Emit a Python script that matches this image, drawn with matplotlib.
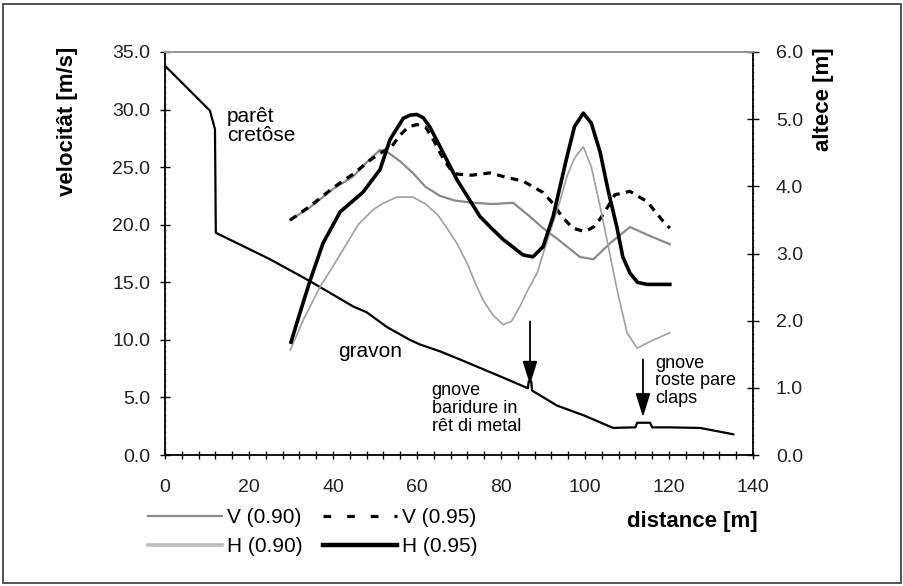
import matplotlib
matplotlib.use("Agg")
import matplotlib.pyplot as plt
from matplotlib.ticker import MultipleLocator, FormatStrFormatter
from matplotlib.lines import Line2D
from matplotlib.patches import Rectangle

plt.rcParams['font.family'] = ['Liberation Sans', 'DejaVu Sans']

# profîl dal teren (in unitâts de scjale a çampe)
ground_x = [0, 10.7, 11.9, 12.1, 25, 34.5, 44.8, 48, 52.9, 58.3, 60.7, 65.5, 70.2, 80,
            86.4, 86.6, 87.2, 87.4, 93.3, 100, 106.7, 111.4, 112.0, 112.4, 115.5, 116.0,
            120, 127.4, 135.3]
ground_y = [33.8, 29.9, 28.3, 19.3, 17.0, 15.1, 12.9, 12.4, 11.1, 10.0, 9.6, 9.0, 8.3, 6.8,
            5.8, 6.4, 6.4, 5.6, 4.3, 3.4, 2.35, 2.4, 2.4, 2.8, 2.8, 2.4,
            2.4, 2.35, 1.8]

# velocitât [m/s]
v90_x = [29.8, 34.5, 40, 44.8, 48.8, 51.2, 53, 56, 59, 62, 65.5, 69, 73.3, 78, 82.9,
         86.9, 90, 94, 98.8, 102, 106, 110.7, 115, 120.2]
v90_y = [20.4, 21.5, 23.1, 24.2, 25.7, 26.5, 26.3, 25.5, 24.5, 23.3, 22.5, 22.1, 21.9, 21.8, 21.9,
         20.7, 19.7, 18.6, 17.2, 17.0, 18.4, 19.8, 19.1, 18.3]

v95_x = [29.8, 34.5, 40, 44.8, 48.8, 51.2, 54, 56, 58, 60, 62, 64, 66.3, 68, 69.5, 73, 77.4,
         81.4, 85.2, 90, 92.5, 94.5, 97.1, 100, 102, 103.6, 105.5, 107.1, 110.7, 114.8, 118.6, 120.2]
v95_y = [20.4, 21.6, 23.2, 24.4, 25.6, 26.2, 26.8, 27.8, 28.5, 28.7, 28.5, 27.3, 25.7, 24.8, 24.4, 24.3, 24.5,
         24.1, 23.8, 22.8, 21.8, 20.7, 19.7, 19.4, 19.8, 20.5, 21.6, 22.6, 22.9, 22.0, 20.3, 19.7]

# altece [m]
h90_x = [29.8, 33, 36.9, 40, 43.3, 46, 49.5, 52, 55.2, 59, 62, 65, 67, 69.5, 71.9, 73.8, 75.7, 78,
         80.5, 82.5, 84.5, 86.5, 88.6, 90.5, 92.4, 94, 95.7, 97.5, 99.6, 101.5, 103.6, 105.5, 107.6,
         110, 112.4, 116.2, 120.2]
h90_y = [1.56, 2.02, 2.50, 2.81, 3.15, 3.43, 3.65, 3.75, 3.84, 3.84, 3.74, 3.57, 3.39, 3.15, 2.86, 2.57, 2.31, 2.09,
         1.94, 1.99, 2.21, 2.47, 2.71, 3.09, 3.46, 3.77, 4.15, 4.42, 4.59, 4.29, 3.70, 3.12, 2.47,
         1.82, 1.59, 1.71, 1.82]

h95_x = [30, 32, 34.5, 37.6, 41.7, 47.1, 51.2, 53.6, 56.7, 58.3, 60, 61.5, 63, 65.5, 69.5, 75, 78, 80.5,
         85.2, 87.6, 90, 92.4, 95.7, 97.5, 99.6, 101.5, 103.6, 105.5, 107.6, 109, 110.7, 112.5, 114.8, 120.2]
h95_y = [1.68, 2.09, 2.59, 3.15, 3.62, 3.91, 4.25, 4.70, 5.01, 5.06, 5.07, 5.02, 4.89, 4.59, 4.10, 3.55, 3.36, 3.21,
         2.98, 2.95, 3.10, 3.55, 4.44, 4.89, 5.09, 4.94, 4.51, 3.94, 3.39, 2.95, 2.71, 2.57, 2.54, 2.54]

fig = plt.figure(figsize=(9.04, 5.86), dpi=100)
ax = fig.add_axes([165 / 904, 1 - 455 / 586, 588 / 904, 403 / 586])
ax2 = ax.twinx()

ax.plot(ground_x, ground_y, color='black', lw=1.6, zorder=3)
ax.plot(v90_x, v90_y, color='#8a8a8a', lw=1.6, zorder=4)
ax.plot(v95_x, v95_y, color='black', lw=2.3, dashes=(2.4, 2.0), zorder=5)
ax2.plot(h90_x, h90_y, color='#a0a0a0', lw=1.2, zorder=4)
ax2.plot(h95_x, h95_y, color='black', lw=2.6, zorder=5)

ax.set_xlim(0, 140)
ax.set_ylim(0, 35)
ax2.set_ylim(0, 6)

ax.xaxis.set_major_locator(MultipleLocator(20))
ax.xaxis.set_minor_locator(MultipleLocator(4))
ax.yaxis.set_major_locator(MultipleLocator(5))
ax.yaxis.set_minor_locator(MultipleLocator(0.5))
ax.yaxis.set_major_formatter(FormatStrFormatter('%.1f'))
ax2.yaxis.set_major_locator(MultipleLocator(1))
ax2.yaxis.set_minor_locator(MultipleLocator(0.1))
ax2.yaxis.set_major_formatter(FormatStrFormatter('%.1f'))

for a in (ax, ax2):
    for s in a.spines.values():
        s.set_linewidth(1.3)
    a.spines['top'].set_color('#999999')
ax.spines['right'].set_visible(False)
ax2.spines['left'].set_visible(False)
ax2.spines['bottom'].set_visible(False)

ax.tick_params(axis='x', which='both', direction='inout', length=6, width=1, pad=14,
               labelsize=14, labelcolor='#222222')
ax.tick_params(axis='y', which='major', direction='inout', length=7, width=1, pad=7,
               labelsize=14, labelcolor='#222222')
ax.tick_params(axis='y', which='minor', direction='inout', length=2, width=0.6, color='#777777')
ax2.tick_params(axis='y', which='major', direction='inout', length=9, width=1, pad=12,
                labelsize=14, labelcolor='#222222')
ax2.tick_params(axis='y', which='minor', direction='inout', length=2, width=0.6, color='#777777')

# scrits
ax.text(14.8, 30.2, 'parêt\ncretôse', fontsize=15, va='top', ha='left', linespacing=1.0)
ax.text(41.2, 8.5, 'gravon', fontsize=15, va='baseline', ha='left')
ax.text(63.5, 6.3, 'gnove\nbaridure in\nrêt di metal', fontsize=13, va='top', ha='left',
        linespacing=1.05)
ax.text(116.7, 8.7, 'gnove\nroste pare\nclaps', fontsize=13, va='top', ha='left',
        linespacing=1.05)

arrow = dict(arrowstyle='-|>,head_length=0.8,head_width=0.25', color='black', lw=1.3,
             mutation_scale=18, shrinkA=0, shrinkB=0)
ax.annotate('', xy=(86.9, 6.1), xytext=(86.9, 11.6), arrowprops=arrow)
ax.annotate('', xy=(113.8, 3.3), xytext=(113.8, 8.3), arrowprops=arrow)

fig.text(67 / 904, 1 - 47 / 586, 'velocitât [m/s]', rotation=90, ha='center', va='top',
         fontsize=16, fontweight='bold')
fig.text(823 / 904, 1 - 47 / 586, 'altece [m]', rotation=90, ha='center', va='top',
         fontsize=16, fontweight='bold')
fig.text(758 / 904, 1 - 522 / 586, 'distance [m]', ha='right', va='center',
         fontsize=16, fontweight='bold')

handles = [
    Line2D([], [], color='#8a8a8a', lw=1.6),
    Line2D([], [], color='#bdbdbd', lw=2.6),
    Line2D([], [], color='black', lw=2.3, dashes=(2.4, 5.0)),
    Line2D([], [], color='black', lw=3.2),
]
labels = ['V (0.90)', 'H (0.90)', 'V (0.95)', 'H (0.95)']
fig.legend(handles, labels, ncol=2, loc='upper left', bbox_to_anchor=(148 / 904, 1 - 508 / 586),
           frameon=False, fontsize=15, handlelength=3.55, handletextpad=0.25,
           columnspacing=0.95, borderpad=0, borderaxespad=0, labelspacing=0.5)

fig.add_artist(Rectangle((3 / 904, 3 / 586), 898 / 904, 579 / 586, transform=fig.transFigure,
                         fill=False, edgecolor='#444444', lw=1.3))

fig.savefig('out.png', dpi=100)
